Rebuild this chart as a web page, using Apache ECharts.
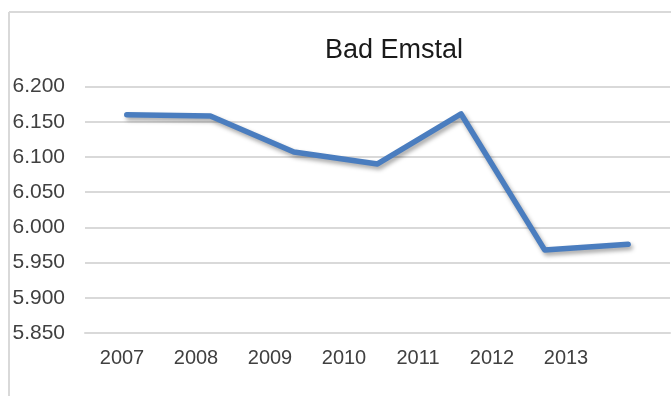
<!DOCTYPE html>
<html>
<head>
<meta charset="utf-8">
<script src="https://cdn.jsdelivr.net/npm/echarts@6/dist/echarts.min.js"></script>
<style>
  html, body { margin: 0; padding: 0; background: #fff; }
  #chart { width: 671px; height: 396px; }
</style>
</head>
<body>
<div id="chart"></div>
<script>
// Einwohnerzahl Bad Emstal, 2007–2013
const years = ['2007', '2008', '2009', '2010', '2011', '2012', '2013'];
const population = [6160, 6158, 6107, 6090, 6161, 5968, 5976];
const yMin = 5850;
const yMax = 6200;
const yStep = 50;
const titleText = 'Bad Emstal';

const FONT = '"Liberation Sans", Arial, sans-serif';
const fmt = v => v.toLocaleString('de-DE', { minimumFractionDigits: 0 });

const chart = echarts.init(document.getElementById('chart'), null, { renderer: 'canvas' });

chart.setOption({
  animation: false,
  backgroundColor: '#ffffff',
  textStyle: { fontFamily: FONT },
  graphic: [
    // chart frame
    { type: 'line', shape: { x1: 9, y1: 12, x2: 671, y2: 12 },
      style: { stroke: '#d9d9d9', lineWidth: 2 }, silent: true },
    { type: 'line', shape: { x1: 9, y1: 12, x2: 9, y2: 396 },
      style: { stroke: '#d9d9d9', lineWidth: 2 }, silent: true },
    { type: 'text', x: 394, y: 51,
      style: { text: titleText, font: '27px ' + FONT, fill: '#1a1a1a',
               textAlign: 'center', textVerticalAlign: 'middle' }, silent: true }
  ],
  grid: [
    { left: 85, right: 1, top: 86.5, bottom: 63, containLabel: false },
    { left: 85, right: 68, top: 86.5, bottom: 63, containLabel: false }
  ],
  xAxis: [
    {
      type: 'category', gridIndex: 0, data: years, boundaryGap: true,
      axisLine: { show: true, lineStyle: { color: '#d9d9d9', width: 2 } },
      axisTick: { show: false },
      axisLabel: { show: false }
    },
    {
      type: 'category', gridIndex: 1, data: years, boundaryGap: true,
      axisLine: { show: false },
      axisTick: { show: false },
      axisLabel: { show: true, color: '#404040', fontSize: 20, margin: 15, fontFamily: FONT }
    }
  ],
  yAxis: [
    {
      type: 'value', gridIndex: 0, min: yMin, max: yMax, interval: yStep,
      axisLine: { show: false },
      axisTick: { show: false },
      splitLine: { show: true, lineStyle: { color: '#d9d9d9', width: 2 } },
      axisLabel: { color: '#404040', fontSize: 21, margin: 20, fontFamily: FONT,
                   formatter: v => fmt(v) }
    },
    {
      type: 'value', gridIndex: 1, min: yMin, max: yMax, interval: yStep,
      show: false
    }
  ],
  series: [
    {
      type: 'line', xAxisIndex: 0, yAxisIndex: 0,
      data: population,
      symbol: 'none',
      lineStyle: {
        color: '#4a7dbf', width: 5.5, cap: 'round', join: 'round',
        shadowColor: 'rgba(0,0,0,0.35)', shadowBlur: 4,
        shadowOffsetX: 2, shadowOffsetY: 3
      }
    }
  ]
});
</script>
</body>
</html>
